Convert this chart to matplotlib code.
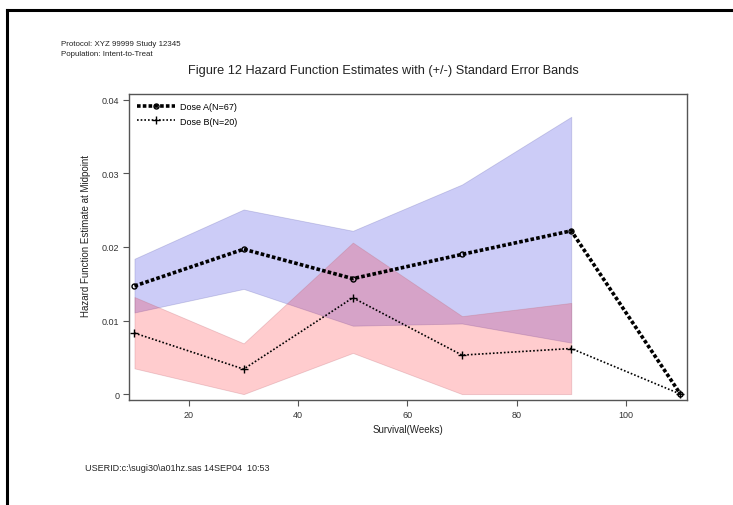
import matplotlib
matplotlib.use("Agg")
import matplotlib.pyplot as plt
from matplotlib.lines import Line2D

# Interval midpoints (weeks) and hazard estimates
weeks = [10, 30, 50, 70, 90, 110]
haz_a = [0.0147, 0.0197, 0.0157, 0.0190, 0.0222, 0.0]
haz_b = [0.0083, 0.0034, 0.0131, 0.0053, 0.0062, 0.0]

# Standard error bands (first five intervals)
band_weeks = [10, 30, 50, 70, 90]
lower_a = [0.0111, 0.0143, 0.0093, 0.0096, 0.0070]
upper_a = [0.0184, 0.0251, 0.0222, 0.0285, 0.0377]
lower_b = [0.0035, 0.0, 0.0056, 0.0, 0.0]
upper_b = [0.0132, 0.0069, 0.0206, 0.0106, 0.0124]

labels = ["Dose A(N=67)", "Dose B(N=20)"]
y_ticks = [0, 0.01, 0.02, 0.03, 0.04]
y_ticklabels = ["0", "0.01", "0.02", "0.03", "0.04"]
x_ticks = [20, 40, 60, 80, 100]

plt.rcParams["font.family"] = ["Liberation Sans", "DejaVu Sans"]

W, H = 733, 506
fig = plt.figure(figsize=(W / 100, H / 100), dpi=100)

# page frame: top and left rules
fig.add_artist(Line2D([7 / W, 1], [1 - 11 / H, 1 - 11 / H], color="black", lw=2.2))
fig.add_artist(Line2D([7 / W, 7 / W], [1 - 11 / H, 0], color="black", lw=2.2))

ax = fig.add_axes([129 / W, 1 - 401 / H, (687 - 129) / W, (401 - 95) / H])

ax.fill_between(band_weeks, lower_a, upper_a, facecolor=(0.0, 0.0, 0.85, 0.2),
                edgecolor=(0.4, 0.4, 0.7, 0.3), lw=0.6)
ax.fill_between(band_weeks, lower_b, upper_b, facecolor=(1.0, 0.0, 0.05, 0.2),
                edgecolor=(0.75, 0.4, 0.45, 0.3), lw=0.6)

ax.plot(weeks, haz_a, color="black", lw=2.6, ls=(0, (1, 0.6)),
        marker="o", ms=3.6, mfc="none", mew=1.0, label=labels[0])
ax.plot(weeks, haz_b, color="black", lw=1.2, ls=(0, (1, 1.2)),
        marker="+", ms=6, mew=1.0, label=labels[1])

ax.set_xlim(9, 111.2)
ax.set_ylim(-0.0008, 0.0408)
ax.set_yticks(y_ticks)
ax.set_yticklabels(y_ticklabels)
ax.set_xticks(x_ticks)

spine_col = "#555555"
for side in ["left", "bottom", "top", "right"]:
    ax.spines[side].set_color(spine_col)
    ax.spines[side].set_linewidth(1.0)
ax.tick_params(direction="out", length=4, width=0.8, color=spine_col,
               labelsize=6.5, labelcolor="#333333", pad=3)

ax.set_xlabel("Survival(Weeks)", fontsize=7, color="#222222", labelpad=4)
ax.set_ylabel("Hazard Function Estimate at Midpoint", fontsize=7,
              color="#222222")
ax.yaxis.set_label_coords(-0.068, 0.539)

leg = ax.legend(loc="upper left", frameon=False, fontsize=6.5,
                handlelength=4.2, handletextpad=0.5, labelspacing=0.6,
                borderaxespad=0.5)

fig.text(61 / W, 1 - 45 / H, "Protocol: XYZ 99999 Study 12345",
         fontsize=5.7, va="center", ha="left", color="#222222")
fig.text(61 / W, 1 - 55 / H, "Population: Intent-to-Treat",
         fontsize=5.7, va="center", ha="left", color="#222222")
fig.text(383 / W, 1 - 71 / H,
         "Figure 12 Hazard Function Estimates with (+/-) Standard Error Bands",
         fontsize=9.2, va="center", ha="center", color="#222222")
fig.text(85 / W, 1 - 469 / H, "USERID:c:\\sugi30\\a01hz.sas 14SEP04  10:53",
         fontsize=6.5, va="center", ha="left", color="#222222")

fig.savefig("out.png", dpi=100)
